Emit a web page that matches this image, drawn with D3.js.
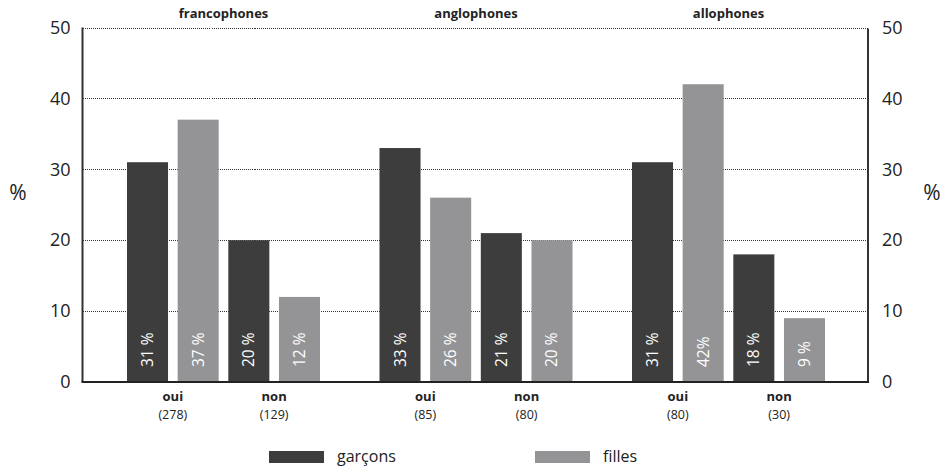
<!DOCTYPE html>
<html><head><meta charset="utf-8">
<script src="https://cdn.jsdelivr.net/npm/d3@7"></script>
<style>body{margin:0;background:#fff}svg{display:block;font-family:"Open Sans",sans-serif}</style>
</head><body><svg id="c" width="949" height="470"></svg>
<script>
const groups = ["francophones","anglophones","allophones"];
const answers = ["oui","non"];
const counts = [["(278)","(129)"],["(85)","(80)"],["(80)","(30)"]];
const series = ["garçons","filles"];
const garcons = [[31,20],[33,21],[31,18]];
const filles = [[37,12],[26,20],[42,9]];
const labelsG = [["31 %","20 %"],["33 %","21 %"],["31 %","18 %"]];
const labelsF = [["37 %","12 %"],["26 %","20 %"],["42%","9 %"]];
const ticks = [0,10,20,30,40,50];
const colors = ["#3d3d3d","#949497"];

const svg = d3.select("#c");
const L = 82.5, R = 868, T = 27.5, B = 382;
const y = d3.scaleLinear().domain([0,50]).range([B,T]);
const x0 = d3.scaleBand().domain(groups).range([97.25,854.75]).padding(0);
const keys = ["oui-g","oui-f","non-g","non-f"];
const x1 = d3.scaleBand().domain(keys).range([-96.5,96.5]).paddingInner(0.19).paddingOuter(0);

// gridlines
svg.append("g").selectAll("line").data(ticks.filter(t=>t>0)).join("line")
  .attr("x1",L).attr("x2",R).attr("y1",d=>Math.round(y(d))+0.5).attr("y2",d=>Math.round(y(d))+0.5)
  .attr("stroke","#333").attr("stroke-width",1).attr("stroke-dasharray","1,1")
  .attr("shape-rendering","crispEdges");

// axes
const axL = d3.axisLeft(y).tickValues(ticks).tickSize(0).tickPadding(12);
const gL = svg.append("g").attr("transform",`translate(${L},0)`).call(axL);
const axR = d3.axisRight(y).tickValues(ticks).tickSize(0).tickPadding(14);
const gR = svg.append("g").attr("transform",`translate(${R},0)`).call(axR);
[gL,gR].forEach(g=>{
  g.select(".domain").remove();
  g.selectAll("text").attr("font-size",18).attr("fill","#222").attr("font-family","'Open Sans',sans-serif");
});

// bars
const data = [];
groups.forEach((g,i)=>{
  answers.forEach((a,j)=>{
    data.push({g, k:a+"-g", v:garcons[i][j], lab:labelsG[i][j], c:colors[0]});
    data.push({g, k:a+"-f", v:filles[i][j], lab:labelsF[i][j], c:colors[1]});
  });
});
const bx = d=> x0(d.g) + x0.bandwidth()/2 + x1(d.k);
svg.append("g").selectAll("rect").data(data).join("rect")
  .attr("x",bx).attr("width",x1.bandwidth())
  .attr("y",d=>y(d.v)).attr("height",d=>B-y(d.v)).attr("fill",d=>d.c);

svg.append("g").selectAll("text").data(data).join("text")
  .attr("transform",d=>`translate(${bx(d)+x1.bandwidth()/2+5.5},${B-15}) rotate(-90)`)
  .attr("fill","#fff").attr("font-size",15.5).text(d=>d.lab);

// axis lines
svg.append("line").attr("x1",L).attr("x2",L).attr("y1",T).attr("y2",B).attr("stroke","#333").attr("stroke-width",2);
svg.append("line").attr("x1",R).attr("x2",R).attr("y1",T+1).attr("y2",B).attr("stroke","#333").attr("stroke-width",2);
svg.append("line").attr("x1",L-1).attr("x2",R+1).attr("y1",B).attr("y2",B).attr("stroke","#222").attr("stroke-width",2);

// group titles
svg.append("g").selectAll("text").data(groups).join("text")
  .attr("x",g=>x0(g)+x0.bandwidth()/2).attr("y",18).attr("text-anchor","middle")
  .attr("font-size",13).attr("font-weight","bold").attr("fill","#222").text(g=>g);

// category labels
groups.forEach((g,i)=>{
  answers.forEach((a,j)=>{
    const cx = x0(g)+x0.bandwidth()/2 + (x1(a+"-g")+x1(a+"-f")+x1.bandwidth())/2;
    svg.append("text").attr("x",cx).attr("y",401).attr("text-anchor","middle")
      .attr("font-size",13).attr("font-weight","bold").attr("fill","#222").text(a);
    svg.append("text").attr("x",cx).attr("y",419).attr("text-anchor","middle")
      .attr("font-size",12.5).attr("fill","#222").text(counts[i][j]);
  });
});

// % labels
svg.append("text").attr("x",18).attr("y",200).attr("text-anchor","middle").attr("font-size",21).attr("fill","#222").text("%");
svg.append("text").attr("x",932).attr("y",200).attr("text-anchor","middle").attr("font-size",21).attr("fill","#222").text("%");

// legend
const legX = [269,535];
series.forEach((s,i)=>{
  svg.append("rect").attr("x",legX[i]).attr("y",451).attr("width",55).attr("height",12).attr("fill",colors[i]);
  svg.append("text").attr("x",legX[i]+68).attr("y",462).attr("font-size",16).attr("fill","#222").text(s);
});
</script></body></html>
